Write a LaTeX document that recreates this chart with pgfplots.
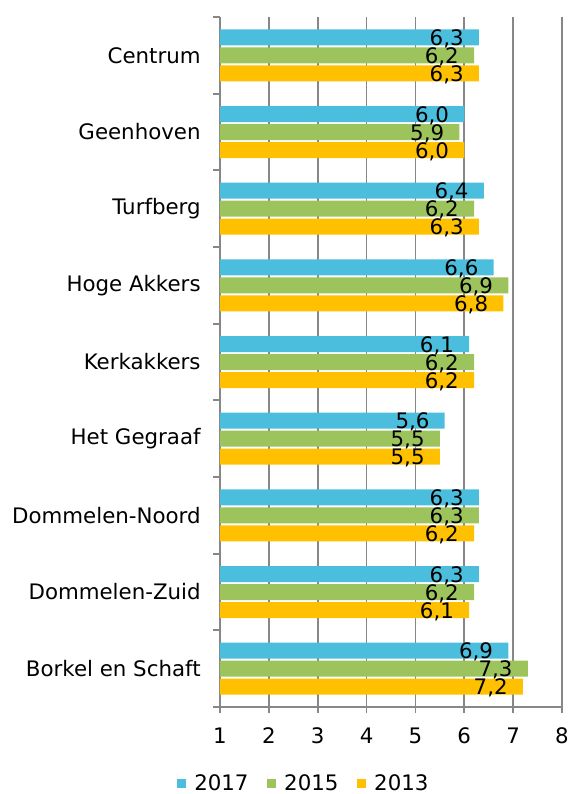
\documentclass[border=0pt]{standalone}
\usepackage{fontspec}
\setmainfont{DejaVu Sans}
\usepackage{pgfplots}
\pgfplotsset{compat=1.18}
\usepackage{pgfplotstable}
\definecolor{cblue}{HTML}{4BBEDD}
\definecolor{cgreen}{HTML}{9DC45C}
\definecolor{corange}{HTML}{FFC000}
\definecolor{cgrid}{HTML}{878787}
\newcommand\cf{\fontsize{16}{19}\selectfont}
% idx: Centrum = 8 (top) ... Borkel en Schaft = 0 (bottom)
\pgfplotstableread{
idx v17 v15 v13
8 6.3 6.2 6.3
7 6.0 5.9 6.0
6 6.4 6.2 6.3
5 6.6 6.9 6.8
4 6.1 6.2 6.2
3 5.6 5.5 5.5
2 6.3 6.3 6.2
1 6.3 6.2 6.1
0 6.9 7.3 7.2
}\data
\pgfplotsset{sq legend/.style={legend image code/.code={\path (0pt,-3pt) -- (0pt,8pt);\path[##1,draw=none] (0pt,-3pt) rectangle (6.75pt,3.75pt);}}}
\begin{document}
\cf
\begin{tikzpicture}
\path[use as bounding box] (-165pt,-65.25pt) rectangle (263.25pt,530.25pt);
\begin{axis}[
  at={(0pt,0pt)}, anchor=south west,
  scale only axis, width=256.5pt, height=517.5pt,
  xmin=1, xmax=8, ymin=-0.5, ymax=8.5,
  xbar, bar width=0.2087, bar shift=0pt,
  axis lines*=left,
  axis line style={draw=cgrid, line width=1.3pt, -},
  xtick={1,...,8}, xticklabels={1,2,3,4,5,6,7,8},
  tick align=outside, major tick length=4.5pt,
  tick style={draw=cgrid, line width=1.3pt},
  xmajorgrids, major grid style={draw=cgrid, line width=1.3pt},
  ytick={0,...,8},
  yticklabels={Borkel en Schaft,Dommelen-Zuid,Dommelen-Noord,Het Gegraaf,Kerkakkers,Hoge Akkers,Turfberg,Geenhoven,Centrum},
  major y tick style={draw=none},
  minor ytick={-0.5,0.5,...,8.5}, minor tick length=5.25pt,
  minor y tick style={draw=cgrid, line width=1.3pt},
  tick label style={font=\cf, text=black},
  xticklabel style={yshift=-5.5pt},
  yticklabel style={xshift=-4.5pt},
  point meta=x,
  nodes near coords={\pgfmathprintnumber[fixed,fixed zerofill,precision=1,use comma,assume math mode=true]{\pgfplotspointmeta}},
  every node near coord/.append style={font=\cf, anchor=east, inner sep=0pt, xshift=-11.25pt, yshift=-1pt, text=black},
  legend columns=3,
  legend style={draw=none, fill=none, font=\cf, inner sep=0pt,
    at={(axis description cs:-0.1257,-0.111)}, anchor=west,
    nodes={inner sep=0pt},
    /tikz/every odd column/.append style={column sep=6pt},
    /tikz/every even column/.append style={column sep=14pt}},
]
\addplot[fill=cblue, draw=none, sq legend] table[x=v17, y expr=\thisrow{idx}+0.2348] {\data};
\addplot[fill=cgreen, draw=none, sq legend] table[x=v15, y expr=\thisrow{idx}] {\data};
\addplot[fill=corange, draw=none, sq legend] table[x=v13, y expr=\thisrow{idx}-0.2348] {\data};
\legend{2017,2015,2013}
\end{axis}
\end{tikzpicture}
\end{document}
